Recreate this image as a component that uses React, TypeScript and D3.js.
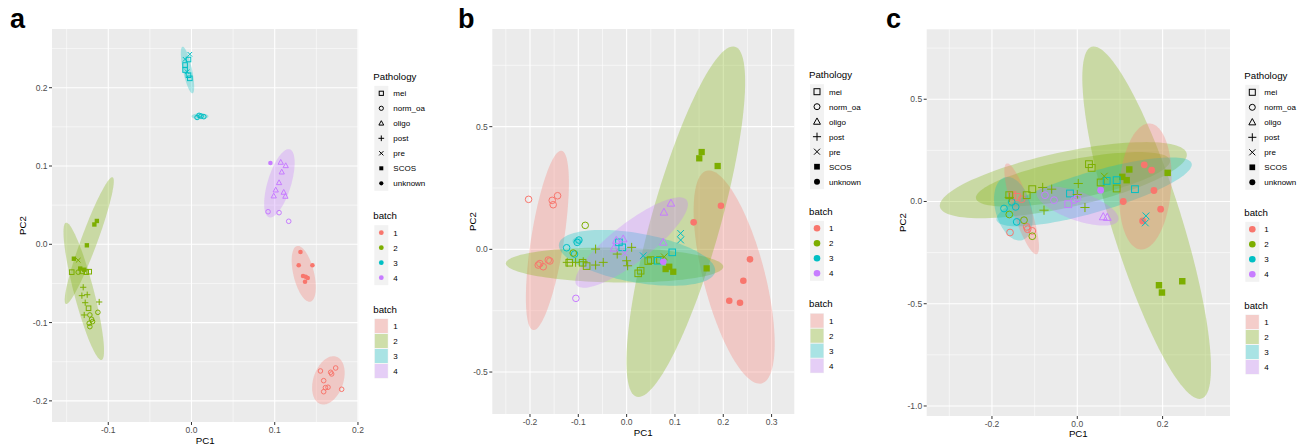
import React from "react";
import * as d3 from "d3";

// ---------- shared categories ----------
const batchLevels = ["1", "2", "3", "4"];
const batchColors = ["#F8766D", "#7CAE00", "#00BFC4", "#C77CFF"];
const pathologyLevels = ["mei", "norm_oa", "oligo", "post", "pre", "SCOS", "unknown"];

// [PC1, PC2, batch, pathology]
type Pt = [number, number, number, string];
// [batch, PC1 end A, PC2 end A, PC1 end B, PC2 end B, minor/major ratio]
type Ell = [number, number, number, number, number, number];

// ---------- panel a ----------
const pointsA: Pt[] = [
  [-0.002, 0.2427, 3, "pre"], [-0.0077, 0.2363, 3, "pre"], [-0.0036, 0.236, 3, "mei"],
  [-0.0077, 0.229, 3, "mei"], [-0.0077, 0.2226, 3, "mei"], [-0.0053, 0.2204, 3, "pre"],
  [-0.0036, 0.216, 3, "mei"], [-0.002, 0.212, 3, "mei"],
  [0.0067, 0.162, 3, "norm_oa"], [0.0091, 0.1647, 3, "norm_oa"], [0.0115, 0.1638, 3, "norm_oa"], [0.0148, 0.163, 3, "norm_oa"],
  [0.0948, 0.1038, 4, "unknown"],
  [0.1072, 0.1047, 4, "oligo"], [0.1132, 0.1004, 4, "oligo"], [0.1084, 0.0923, 4, "oligo"], [0.1052, 0.0787, 4, "oligo"],
  [0.1012, 0.0693, 4, "oligo"], [0.1108, 0.0664, 4, "oligo"], [0.0988, 0.0617, 4, "oligo"], [0.1128, 0.0613, 4, "oligo"],
  [0.092, 0.0416, 4, "norm_oa"], [0.1052, 0.0404, 4, "norm_oa"], [0.1168, 0.0294, 4, "norm_oa"],
  [0.1309, -0.0098, 1, "unknown"], [0.1288, -0.0268, 1, "unknown"], [0.1453, -0.0268, 1, "unknown"], [0.134, -0.0405, 1, "unknown"],
  [0.1372, -0.0414, 1, "unknown"], [0.1364, -0.0478, 1, "unknown"], [0.1396, -0.043, 1, "unknown"],
  [0.1549, -0.1618, 1, "norm_oa"], [0.1732, -0.158, 1, "norm_oa"], [0.1672, -0.1635, 1, "norm_oa"], [0.1684, -0.1656, 1, "norm_oa"],
  [0.1588, -0.1742, 1, "norm_oa"], [0.1609, -0.1831, 1, "norm_oa"], [0.164, -0.1826, 1, "norm_oa"], [0.1588, -0.1883, 1, "norm_oa"],
  [0.1804, -0.1852, 1, "norm_oa"],
  [-0.1137, 0.0298, 2, "SCOS"], [-0.1167, 0.0253, 2, "SCOS"], [-0.1257, -0.0013, 2, "SCOS"], [-0.1413, -0.0184, 2, "SCOS"],
  [-0.1337, -0.031, 2, "SCOS"], [-0.1289, -0.0325, 2, "SCOS"], [-0.1361, -0.0204, 2, "pre"],
  [-0.1439, -0.0356, 2, "mei"], [-0.1313, -0.0346, 2, "mei"], [-0.1265, -0.0356, 2, "mei"], [-0.1229, -0.035, 2, "mei"],
  [-0.1237, -0.0817, 2, "mei"], [-0.1361, -0.0356, 2, "norm_oa"],
  [-0.1221, -0.0903, 2, "norm_oa"], [-0.12, -0.0958, 2, "norm_oa"], [-0.1189, -0.0988, 2, "norm_oa"], [-0.1229, -0.1009, 2, "norm_oa"],
  [-0.1221, -0.1052, 2, "norm_oa"], [-0.1125, -0.0869, 2, "norm_oa"],
  [-0.1301, -0.0549, 2, "post"], [-0.1317, -0.0656, 2, "post"], [-0.1253, -0.0644, 2, "post"], [-0.1277, -0.0746, 2, "post"],
  [-0.1289, -0.0903, 2, "post"], [-0.1109, -0.0737, 2, "post"],
];
const ellipsesA: Ell[] = [
  [3, -0.0108, 0.2524, 0.0012, 0.1928, 0.19],
  [3, 0.0, 0.1635, 0.0204, 0.1635, 0.35],
  [4, 0.118, 0.1213, 0.0932, 0.0345, 0.33],
  [1, 0.1268, -0.0022, 0.1429, -0.0733, 0.36],
  [1, 0.174, -0.1436, 0.1549, -0.204, 0.6],
  [2, -0.0948, 0.0856, -0.1509, -0.0762, 0.12],
  [2, -0.1509, 0.0276, -0.108, -0.1478, 0.14],
];
const xTicksA = [-0.1, 0, 0.1, 0.2];
const xTickLabelsA = ["-0.1", "0.0", "0.1", "0.2"];
const xMinorA = [-0.15, -0.05, 0.05, 0.15];
const yTicksA = [-0.2, -0.1, 0, 0.1, 0.2];
const yTickLabelsA = ["-0.2", "-0.1", "0.0", "0.1", "0.2"];
const yMinorA = [-0.15, -0.05, 0.05, 0.15, 0.25];

// ---------- panel b ----------
const pointsB: Pt[] = [
  [-0.2029, 0.2038, 1, "norm_oa"], [-0.154, 0.1997, 1, "norm_oa"], [-0.152, 0.1818, 1, "norm_oa"], [-0.1429, 0.2185, 1, "norm_oa"],
  [-0.1829, -0.064, 1, "norm_oa"], [-0.1726, -0.0709, 1, "norm_oa"], [-0.1622, -0.0436, 1, "norm_oa"], [-0.1588, -0.0475, 1, "norm_oa"],
  [-0.1795, -0.058, 1, "norm_oa"],
  [0.1952, 0.1778, 1, "unknown"], [0.1387, 0.11, 1, "unknown"], [0.2553, -0.0408, 1, "unknown"], [0.2415, -0.128, 1, "unknown"],
  [0.2124, -0.2095, 1, "unknown"], [0.2346, -0.2177, 1, "unknown"],
  [-0.1242, 0.0065, 3, "norm_oa"], [-0.0988, 0.0379, 3, "norm_oa"], [-0.1023, 0.0285, 3, "norm_oa"], [-0.1077, -0.0192, 3, "norm_oa"],
  [-0.0857, 0.0978, 2, "norm_oa"], [-0.1105, -0.015, 2, "norm_oa"],
  [-0.105, -0.1997, 4, "norm_oa"],
  [-0.123, -0.053, 2, "post"], [-0.1056, -0.053, 2, "post"], [-0.0898, -0.0505, 2, "post"], [-0.0642, -0.064, 2, "post"],
  [-0.0484, -0.053, 2, "post"], [-0.0642, 0.0012, 2, "post"], [-0.0195, -0.0192, 2, "post"], [0.0, -0.0465, 2, "post"],
  [0.0021, -0.0669, 2, "post"], [0.0104, 0.0082, 2, "post"],
  [-0.1188, -0.0546, 2, "mei"], [-0.0911, -0.0546, 2, "mei"], [-0.0828, -0.0681, 2, "mei"], [0.024, -0.0978, 2, "mei"],
  [0.029, -0.0872, 2, "mei"], [0.0447, -0.0477, 2, "mei"], [0.0497, -0.0436, 2, "mei"], [0.069, -0.0436, 2, "mei"],
  [-0.0159, 0.0285, 3, "mei"], [-0.0091, 0.0082, 3, "mei"], [0.0944, -0.0122, 3, "mei"], [0.0642, -0.0465, 3, "mei"],
  [0.0344, -0.026, 3, "pre"], [0.1118, 0.0652, 3, "pre"], [0.1118, 0.0379, 3, "pre"],
  [0.0917, 0.1875, 4, "oligo"], [0.0772, 0.1508, 4, "oligo"], [0.0758, 0.0285, 4, "oligo"], [-0.007, 0.042, 4, "oligo"],
  [-0.0263, 0.0041, 4, "oligo"], [-0.0212, 0.036, 4, "oligo"], [-0.0035, -0.016, 4, "pre"],
  [0.0778, -0.0302, 2, "pre"],
  [0.1553, 0.3966, 2, "SCOS"], [0.1503, 0.371, 2, "SCOS"], [0.1884, 0.3396, 2, "SCOS"], [0.0807, -0.0803, 2, "SCOS"],
  [0.0882, -0.0709, 2, "SCOS"], [0.0965, -0.0913, 2, "SCOS"], [0.1656, -0.0775, 2, "SCOS"],
  [0.0758, -0.0505, 4, "unknown"],
];
const ellipsesB: Ell[] = [
  [1, -0.1346, 0.402, -0.1934, -0.329, 0.18],
  [1, 0.1656, 0.3204, 0.2795, -0.5463, 0.28],
  [2, 0.2242, 0.826, 0.0207, -0.6009, 0.19],
  [2, -0.2499, -0.057, 0.2, -0.0709, 0.16],
  [3, -0.14, 0.022, 0.183, -0.0913, 0.31],
  [3, -0.112, 0.034, -0.092, 0.034, 0.7],
  [4, -0.1035, -0.1455, 0.1242, 0.2009, 0.28],
];
const xTicksB = [-0.2, -0.1, 0, 0.1, 0.2, 0.3];
const xTickLabelsB = ["-0.2", "-0.1", "0.0", "0.1", "0.2", "0.3"];
const xMinorB = [-0.25, -0.15, -0.05, 0.05, 0.15, 0.25];
const yTicksB = [-0.5, 0, 0.5];
const yTickLabelsB = ["-0.5", "0.0", "0.5"];
const yMinorB = [-0.25, 0.25, 0.75];

// ---------- panel c ----------
const pointsC: Pt[] = [
  [0.1915, -0.4095, 2, "SCOS"], [0.1985, -0.4452, 2, "SCOS"], [0.2461, -0.39, 2, "SCOS"],
  [0.1219, 0.1566, 2, "SCOS"], [0.1055, 0.1204, 2, "SCOS"], [0.1158, 0.1042, 2, "SCOS"], [0.2119, 0.1399, 2, "SCOS"],
  [0.157, 0.1791, 1, "unknown"], [0.1744, 0.1531, 1, "unknown"], [0.1797, 0.0538, 1, "unknown"], [0.1954, -0.0377, 1, "unknown"],
  [0.1078, 0.0, 1, "unknown"], [0.1532, -0.0949, 1, "unknown"],
  [0.161, -0.0704, 3, "pre"], [0.1594, -0.1047, 3, "pre"],
  [-0.1577, -0.1517, 1, "norm_oa"], [-0.1186, -0.1242, 1, "norm_oa"], [-0.1163, -0.1355, 1, "norm_oa"], [-0.1055, -0.1438, 1, "norm_oa"],
  [-0.1523, 0.0308, 1, "mei"], [-0.142, 0.0225, 1, "mei"], [-0.1303, 0.0112, 1, "norm_oa"],
  [-0.1055, -0.1698, 2, "norm_oa"], [-0.1594, -0.0636, 2, "norm_oa"], [-0.1249, -0.0915, 2, "norm_oa"],
  [-0.1718, -0.0342, 3, "norm_oa"], [-0.1538, -0.002, 3, "norm_oa"], [-0.1444, -0.0264, 3, "norm_oa"], [-0.142, -0.0998, 3, "norm_oa"],
  [-0.1594, 0.0308, 2, "mei"], [-0.1186, 0.0308, 2, "mei"], [-0.1055, 0.0602, 2, "mei"], [0.0274, 0.1825, 2, "mei"],
  [0.0337, 0.1644, 2, "mei"], [0.0548, 0.093, 2, "mei"], [0.0923, 0.0636, 2, "mei"],
  [0.0689, 0.1008, 3, "mei"], [0.0923, 0.1042, 3, "mei"], [0.1352, 0.0602, 3, "mei"], [-0.0171, 0.0391, 3, "mei"],
  [-0.0211, -0.0132, 4, "mei"],
  [-0.0811, 0.0685, 2, "post"], [-0.06, 0.0602, 2, "post"], [-0.078, -0.0426, 2, "post"], [0.0023, 0.088, 2, "post"],
  [0.018, -0.0294, 2, "post"], [-0.1594, 0.02, 2, "post"], [0.0, 0.034, 2, "post"],
  [-0.0757, 0.0308, 4, "norm_oa"], [-0.0546, 0.0064, 4, "norm_oa"], [-0.0077, 0.0064, 4, "norm_oa"], [0.0, 0.0147, 4, "norm_oa"],
  [0.0609, -0.0753, 4, "oligo"], [0.0703, -0.0783, 4, "oligo"],
  [0.0548, 0.0553, 4, "unknown"],
  [0.0633, 0.1238, 2, "pre"],
];
const ellipsesC: Ell[] = [
  [2, 0.0337, 0.7564, 0.2915, -0.9638, 0.19],
  [2, -0.322, -0.0264, 0.2564, 0.2348, 0.22],
  [2, -0.2374, 0.0147, 0.2172, 0.202, 0.2],
  [3, -0.189, -0.0915, 0.268, 0.186, 0.2],
  [3, -0.17, 0.1183, -0.1296, -0.1893, 0.55],
  [1, 0.1704, 0.3816, 0.1485, -0.2348, 0.41],
  [1, -0.1655, 0.1859, -0.0952, -0.2578, 0.19],
  [4, -0.095, 0.047, 0.096, -0.0915, 0.33],
];
const xTicksC = [-0.2, 0, 0.2];
const xTickLabelsC = ["-0.2", "0.0", "0.2"];
const xMinorC = [-0.3, -0.1, 0.1, 0.3];
const yTicksC = [-1, -0.5, 0, 0.5];
const yTickLabelsC = ["-1.0", "-0.5", "0.0", "0.5"];
const yMinorC = [-0.75, -0.25, 0.25, 0.75];

const FONT = "'Liberation Sans', Arial, Helvetica, sans-serif";

function Shape({ kind, x, y, r, color }: { kind: string; x: number; y: number; r: number; color: string }) {
  const sw = 1;
  switch (kind) {
    case "mei":
      return <rect x={x - r} y={y - r} width={2 * r} height={2 * r} fill="none" stroke={color} strokeWidth={sw} />;
    case "norm_oa":
      return <circle cx={x} cy={y} r={r} fill="none" stroke={color} strokeWidth={sw} />;
    case "oligo":
      return (
        <polygon
          points={`${x},${y - 1.25 * r} ${x - 1.15 * r},${y + 0.85 * r} ${x + 1.15 * r},${y + 0.85 * r}`}
          fill="none" stroke={color} strokeWidth={sw}
        />
      );
    case "post":
      return (
        <g stroke={color} strokeWidth={sw}>
          <line x1={x - 1.35 * r} x2={x + 1.35 * r} y1={y} y2={y} />
          <line x1={x} x2={x} y1={y - 1.35 * r} y2={y + 1.35 * r} />
        </g>
      );
    case "pre":
      return (
        <g stroke={color} strokeWidth={sw}>
          <line x1={x - r} x2={x + r} y1={y - r} y2={y + r} />
          <line x1={x - r} x2={x + r} y1={y + r} y2={y - r} />
        </g>
      );
    case "SCOS":
      return <rect x={x - 0.95 * r} y={y - 0.95 * r} width={1.9 * r} height={1.9 * r} fill={color} />;
    default:
      return <circle cx={x} cy={y} r={r} fill={color} />;
  }
}

type PanelCfg = {
  label: string;
  labelX: number;
  rect: [number, number, number, number];
  xDom: [number, number];
  yDom: [number, number];
  xTicks: number[]; xLabels: string[]; xMinor: number[];
  yTicks: number[]; yLabels: string[]; yMinor: number[];
  points: Pt[]; ellipses: Ell[];
  r: number; legR: number;
  legX: number; legKeys: [number, number, number];
  pc1Y: number; pc2X: number; tickLabY: number;
};

function Panel({ c }: { c: PanelCfg }) {
  const [l, t, rr, b] = c.rect;
  const x = d3.scaleLinear().domain(c.xDom).range([l, rr]);
  const y = d3.scaleLinear().domain(c.yDom).range([b, t]);
  const line = d3.line<[number, number]>().curve(d3.curveLinearClosed);
  const ellPath = (e: Ell) => {
    const [, xa, ya, xb, yb, ratio] = e;
    const p1 = [x(xa), y(ya)], p2 = [x(xb), y(yb)];
    const cx = (p1[0] + p2[0]) / 2, cy = (p1[1] + p2[1]) / 2;
    const dx = p2[0] - p1[0], dy = p2[1] - p1[1];
    const len = Math.hypot(dx, dy);
    const ux = dx / len, uy = dy / len;
    const vx = -uy, vy = ux;
    const a = len / 2, bb = a * ratio;
    const pts: [number, number][] = d3.range(120).map((i) => {
      const th = (i / 120) * Math.PI * 2;
      return [cx + a * Math.cos(th) * ux + bb * Math.sin(th) * vx, cy + a * Math.cos(th) * uy + bb * Math.sin(th) * vy];
    });
    return line(pts) || "";
  };
  const kw = 14;
  const keyL = c.legX + 1;
  const keyC = keyL + kw / 2;
  const labX = keyL + 19;
  const step = 15;
  const [k0, k1, k2] = c.legKeys;
  return (
    <g fontFamily={FONT}>
      <text x={c.labelX} y={28} fontSize={27} fontWeight="bold" fill="#000">{c.label}</text>
      <rect x={l} y={t} width={rr - l} height={b - t} fill="#EBEBEB" />
      <clipPath id={`clip-${c.label}`}>
        <rect x={l} y={t} width={rr - l} height={b - t} />
      </clipPath>
      {c.xMinor.map((v, i) => (
        <line key={`xm${i}`} x1={x(v)} x2={x(v)} y1={t} y2={b} stroke="#FFFFFF" strokeWidth={0.55} />
      ))}
      {c.yMinor.map((v, i) => (
        <line key={`ym${i}`} x1={l} x2={rr} y1={y(v)} y2={y(v)} stroke="#FFFFFF" strokeWidth={0.55} />
      ))}
      {c.xTicks.map((v, i) => (
        <line key={`xM${i}`} x1={x(v)} x2={x(v)} y1={t} y2={b} stroke="#FFFFFF" strokeWidth={1.1} />
      ))}
      {c.yTicks.map((v, i) => (
        <line key={`yM${i}`} x1={l} x2={rr} y1={y(v)} y2={y(v)} stroke="#FFFFFF" strokeWidth={1.1} />
      ))}
      <g clipPath={`url(#clip-${c.label})`}>
        {c.ellipses.map((e, i) => (
          <path key={`e${i}`} d={ellPath(e)} fill={batchColors[e[0] - 1]} fillOpacity={0.3} stroke="none" />
        ))}
        {c.points.map((p, i) => (
          <Shape key={`p${i}`} kind={p[3]} x={x(p[0])} y={y(p[1])} r={c.r} color={batchColors[p[2] - 1]} />
        ))}
      </g>
      {/* axes */}
      {c.xTicks.map((v, i) => (
        <g key={`xt${i}`}>
          <line x1={x(v)} x2={x(v)} y1={b} y2={b + 3} stroke="#333333" strokeWidth={1} />
          <text x={x(v)} y={c.tickLabY} fontSize={8.5} fill="#4D4D4D" textAnchor="middle">{c.xLabels[i]}</text>
        </g>
      ))}
      {c.yTicks.map((v, i) => (
        <g key={`yt${i}`}>
          <line x1={l - 3} x2={l} y1={y(v)} y2={y(v)} stroke="#333333" strokeWidth={1} />
          <text x={l - 4.5} y={y(v) + 3} fontSize={8.5} fill="#4D4D4D" textAnchor="end">{c.yLabels[i]}</text>
        </g>
      ))}
      <text x={(l + rr) / 2} y={c.pc1Y} fontSize={9.7} textAnchor="middle" fill="#000">PC1</text>
      <text transform={`translate(${c.pc2X},${(t + b) / 2}) rotate(-90)`} fontSize={9.7} textAnchor="middle" fill="#000">PC2</text>
      {/* legend: Pathology */}
      <text x={c.legX} y={k0 - 13.5} fontSize={9.7} fill="#000">Pathology</text>
      <rect x={keyL} y={k0 - step / 2} width={kw} height={step * pathologyLevels.length} fill="#F2F2F2" />
      {pathologyLevels.map((p, i) => (
        <g key={`lp${i}`}>
          <Shape kind={p} x={keyC} y={k0 + i * step} r={c.legR} color="#000" />
          <text x={labX} y={k0 + i * step + 3} fontSize={8} fill="#000">{p}</text>
        </g>
      ))}
      {/* legend: batch (points) */}
      <text x={c.legX} y={k1 - 13.5} fontSize={9.7} fill="#000">batch</text>
      <rect x={keyL} y={k1 - step / 2} width={kw} height={step * batchLevels.length} fill="#F2F2F2" />
      {batchLevels.map((bl, i) => (
        <g key={`lb${i}`}>
          <circle cx={keyC} cy={k1 + i * step} r={c.legR + 0.3} fill={batchColors[i]} />
          <text x={labX} y={k1 + i * step + 3} fontSize={8} fill="#000">{bl}</text>
        </g>
      ))}
      {/* legend: batch (fill) */}
      <text x={c.legX} y={k2 - 13.5} fontSize={9.7} fill="#000">batch</text>
      {batchLevels.map((bl, i) => (
        <g key={`lf${i}`}>
          <rect x={keyL} y={k2 + i * step - step / 2} width={kw} height={step} fill="#F2F2F2" />
          <rect x={keyL + 0.5} y={k2 + i * step - step / 2 + 0.5} width={kw - 1} height={step - 1} fill={batchColors[i]} fillOpacity={0.3} />
          <text x={labX} y={k2 + i * step + 3} fontSize={8} fill="#000">{bl}</text>
        </g>
      ))}
    </g>
  );
}

const panels: PanelCfg[] = [
  {
    label: "a", labelX: 10, rect: [52, 29, 358.3, 422], xDom: [-0.1676, 0.2004], yDom: [-0.227, 0.275],
    xTicks: xTicksA, xLabels: xTickLabelsA, xMinor: xMinorA, yTicks: yTicksA, yLabels: yTickLabelsA, yMinor: yMinorA,
    points: pointsA, ellipses: ellipsesA, r: 2.3, legR: 2.1, legX: 373.3, legKeys: [93.3, 232.7, 326],
    pc1Y: 444, pc2X: 26, tickLabY: 433,
  },
  {
    label: "b", labelX: 458, rect: [492.3, 29, 794.3, 414], xDom: [-0.278, 0.347], yDom: [-0.671, 0.898],
    xTicks: xTicksB, xLabels: xTickLabelsB, xMinor: xMinorB, yTicks: yTicksB, yLabels: yTickLabelsB, yMinor: yMinorB,
    points: pointsB, ellipses: ellipsesB, r: 3.3, legR: 3, legX: 809, legKeys: [91.7, 228.3, 320.7],
    pc1Y: 436, pc2X: 476, tickLabY: 425,
  },
  {
    label: "c", labelX: 886, rect: [926.7, 29.3, 1230, 416], xDom: [-0.353, 0.358], yDom: [-1.049, 0.842],
    xTicks: xTicksC, xLabels: xTickLabelsC, xMinor: xMinorC, yTicks: yTicksC, yLabels: yTickLabelsC, yMinor: yMinorC,
    points: pointsC, ellipses: ellipsesC, r: 3.4, legR: 3, legX: 1244.3, legKeys: [92.3, 229.3, 322],
    pc1Y: 437, pc2X: 906, tickLabY: 427,
  },
];

export default function App() {
  return (
    <svg width={1306} height={447} style={{ position: "absolute", left: 0, top: 0, background: "#fff" }}>
      <rect x={0} y={0} width={1306} height={447} fill="#fff" />
      {panels.map((p) => (
        <Panel key={p.label} c={p} />
      ))}
    </svg>
  );
}
